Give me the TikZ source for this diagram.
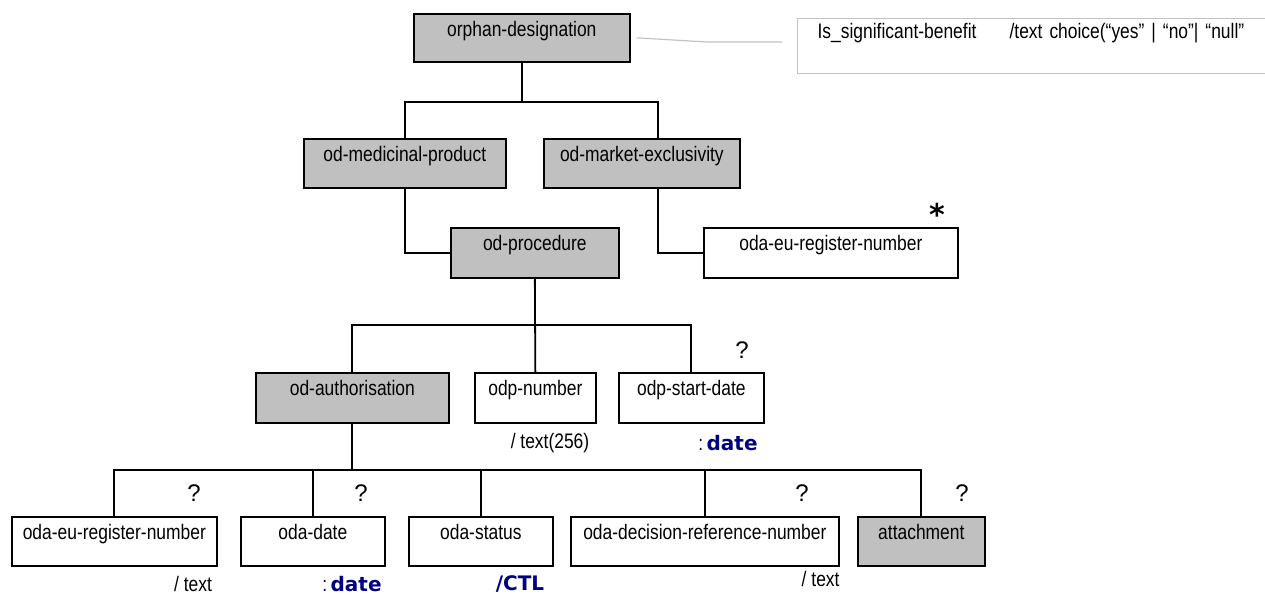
\documentclass[tikz,border=0pt]{standalone}
\usepackage{fontspec}
\setmainfont{Liberation Sans}[FakeStretch=0.83]
\newfontfamily\qfont{Liberation Sans}
\newfontfamily\bfont{DejaVu Sans}
\definecolor{boxgray}{RGB}{192,192,192}
\definecolor{navy}{RGB}{0,0,128}
\definecolor{callgray}{RGB}{195,195,195}
\begin{document}
\begin{tikzpicture}[x=1pt,y=-1pt,
  every node/.style={font=\fontsize{21}{25}\selectfont},
  box/.style={draw, line width=1.7pt, anchor=north west, inner xsep=0pt, inner ysep=8pt, text height=15pt, text depth=18pt},
  gbox/.style={box, fill=boxgray},
  wire/.style={line width=1.8pt},
  q/.style={font=\qfont\fontsize{24}{28}\selectfont, inner sep=0pt},
  lab/.style={inner sep=0pt},
  dt/.style={inner sep=0pt, text=navy, font=\bfont\bfseries\fontsize{20}{22}\selectfont}
]
\useasboundingbox (0,0) rectangle (1265,596);

% top
\node[gbox, minimum width=216pt, text depth=17pt] (orphan) at (413,13) {orphan-designation};
\node[draw=callgray, line width=1.2pt, anchor=north west, text width=440pt, align=left,
      inner xsep=20pt, inner ysep=6pt, text height=14pt, text depth=29pt] (callout) at (797,18)
      {\makebox[192pt][l]{Is\_significant-benefit}/text choice(“yes” | “no”| “null”};
\coordinate (g1) at (707,42);
\draw[callgray, line width=1.2pt] ([xshift=6pt]orphan.east) -- (g1) -- ([xshift=-15pt]g1 -| callout.west);

% row 2
\node[gbox, minimum width=202pt] (medprod) at (303,138) {od-medicinal-product};
\node[gbox, minimum width=196pt] (market) at (543,138) {od-market-exclusivity};
\draw[wire] (orphan.south) -- ++(0,39) -| (medprod.north);
\draw[wire] (orphan.south) ++(0,39) -| ([xshift=16pt]market.north);

% row 2.5
\node[gbox, minimum width=168pt, text depth=19pt] (proc) at (450,227) {od-procedure};
\node[box, minimum width=254pt, text depth=19pt] (oder) at (703,227) {oda-eu-register-number};
\node[font=\bfont\bfseries\fontsize{30}{32}\selectfont, inner sep=0pt, anchor=center] (star) at (937,214) {*};
\draw[wire] (medprod.south) |- (proc.west);
\draw[wire] ([xshift=16pt]market.south) |- (oder.west);

% row 3
\node[gbox, minimum width=193pt, text depth=19pt] (auth) at (255,372) {od-authorisation};
\node[box, minimum width=121pt, text depth=19pt] (odpnum) at (474,372) {odp-number};
\node[box, minimum width=145pt, text depth=19pt] (odpstart) at (618,372) {odp-start-date};
\draw[wire] (proc.south) -- ++(0,46) -| (auth.north);
\draw[wire] (proc.south) -- (odpnum.north);
\draw[wire] (proc.south) ++(0,46) -| (odpstart.north);
\node[q] (q0) at (742,350) {?};
\node[lab] (l256) at (550,443) {/ text(256)};
\node[dt] (d1) at (728,443) {{\normalfont\fontsize{21}{25}\selectfont :}\,date};

% row 4
\node[box, minimum width=205pt] (odaeu) at (11,516) {oda-eu-register-number};
\node[box, minimum width=144pt] (odadate) at (240,516) {oda-date};
\node[box, minimum width=144pt] (odastatus) at (408,516) {oda-status};
\node[box, minimum width=268pt] (decision) at (570,516) {oda-decision-reference-number};
\node[gbox, minimum width=127pt] (attach) at (857,516) {attachment};
\draw[wire] (auth.south) -- ++(0,46) -| (odaeu.north);
\draw[wire] (auth.south) ++(0,46) -| (odadate.north);
\draw[wire] (auth.south) ++(0,46) -| (odastatus.north);
\draw[wire] (auth.south) ++(0,46) -| (decision.north);
\draw[wire] (auth.south) ++(0,46) -| (attach.north);
\node[q] (q1) at (194,493) {?};
\node[q] (q2) at (361,493) {?};
\node[q] (q3) at (802,493) {?};
\node[q] (q4) at (962,493) {?};
\node[lab] (t1) at (193,584) {/ text};
\node[dt] (d2) at (352,584) {{\normalfont\fontsize{21}{25}\selectfont :}\,date};
\node[dt] (ctl) at (520,584) {/CTL};
\node[lab, anchor=north east] (t2) at ([yshift=-4pt]decision.south east) {/ text};
\end{tikzpicture}
\end{document}
